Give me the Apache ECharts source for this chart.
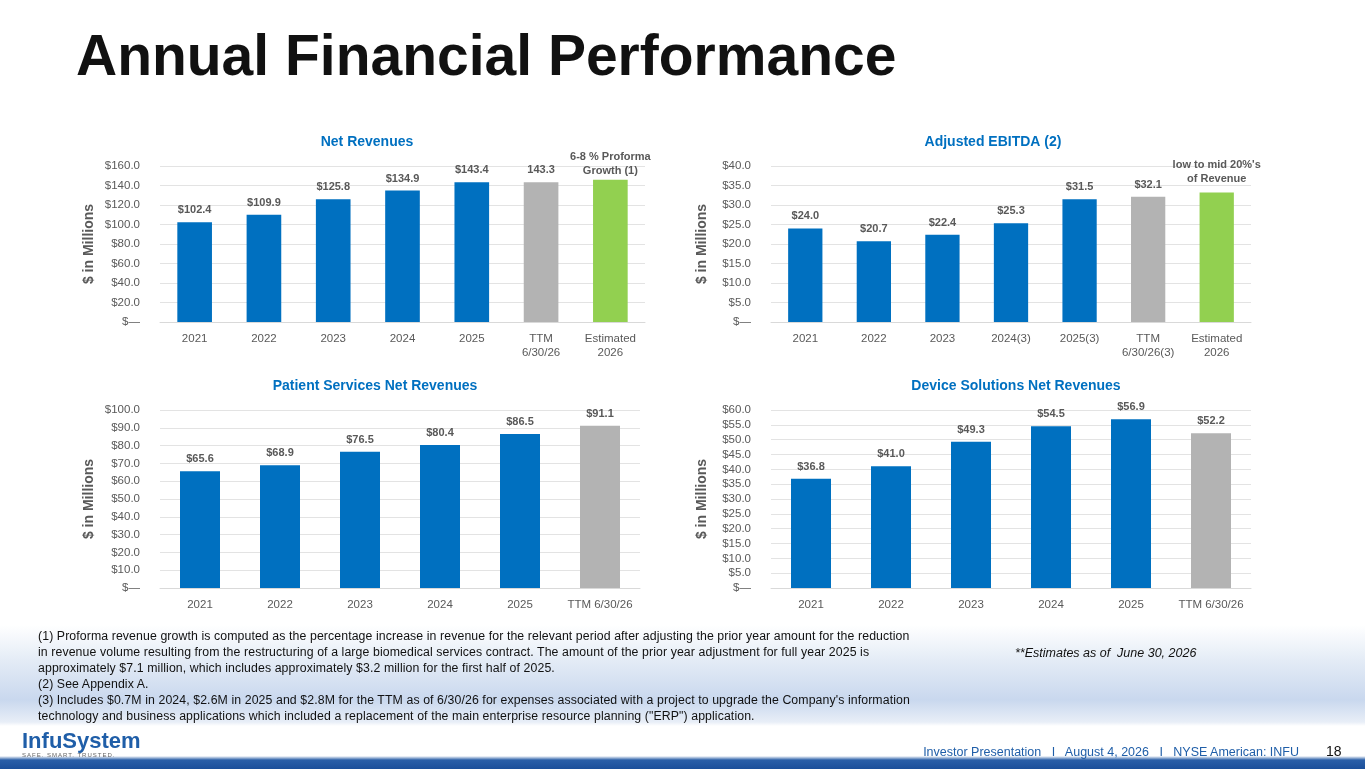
<!DOCTYPE html>
<html>
<head>
<meta charset="utf-8">
<script src="https://cdn.jsdelivr.net/npm/echarts@6/dist/echarts.min.js"></script>
<style>
  body { margin: 0; width: 1365px; height: 769px; overflow: hidden; font-family: Arial, "Liberation Sans", sans-serif; position: relative;
    background: linear-gradient(180deg, #fff 0px, #fff 625px, #e4ecf6 660px, #c9d8ee 700px, #e8eef7 722px, #fff 726px, #fff 756px, #2a5fa8 760px, #1b4f9a 769px); }
  #title { position: absolute; left: 76px; top: 22px; font-size: 57px; font-weight: bold; color: #111; letter-spacing: 0px; }
  #chart { position: absolute; left: 0; top: 0; width: 1365px; height: 769px; }
  #notes { position: absolute; left: 38px; top: 628px; width: 960px; font-size: 12.3px; line-height: 16px; color: #111; letter-spacing: 0.1px; }
  #est { position: absolute; left: 1015px; top: 646px; font-size: 12.5px; font-style: italic; color: #111; }
  #logo { position: absolute; left: 22px; top: 728px; font-size: 22px; font-weight: bold; color: #1f5ea8; }
  #logo small { display: block; font-size: 6px; letter-spacing: 1px; color: #666; font-weight: normal; margin-top: -2px; }
  #foot { position: absolute; right: 66px; top: 745px; font-size: 12.5px; color: #1f5ea8; }
  #page { position: absolute; left: 1326px; top: 743px; font-size: 14px; color: #111; }
</style>
</head>
<body>
<div id="title">Annual Financial Performance</div>
<div id="chart"></div>
<div id="notes">(1) Proforma revenue growth is computed as the percentage increase in revenue for the relevant period after adjusting the prior year amount for the reduction<br>in revenue volume resulting from the restructuring of a large biomedical services contract. The amount of the prior year adjustment for full year 2025 is<br>approximately $7.1 million, which includes approximately $3.2 million for the first half of 2025.<br>(2) See Appendix A.<br>(3) Includes $0.7M in 2024, $2.6M in 2025 and $2.8M for the TTM as of 6/30/26 for expenses associated with a project to upgrade the Company's information<br>technology and business applications which included a replacement of the main enterprise resource planning ("ERP") application.</div>
<div id="est">**Estimates as of &nbsp;June 30, 2026</div>
<div id="logo">InfuSystem<small>SAFE. SMART. TRUSTED.</small></div>
<div id="foot">Investor Presentation &nbsp; I &nbsp; August 4, 2026 &nbsp; I &nbsp; NYSE American: INFU</div>
<div id="page">18</div>
<script>
// chart data
const revCats = ['2021', '2022', '2023', '2024', '2025', 'TTM\n6/30/26', 'Estimated\n2026']
const revVals = [102.4, 109.9, 125.8, 134.9, 143.4, 143.3, 146.0]
const ebitdaCats = ['2021', '2022', '2023', '2024(3)', '2025(3)', 'TTM\n6/30/26(3)', 'Estimated\n2026']
const ebitdaVals = [24.0, 20.7, 22.4, 25.3, 31.5, 32.1, 33.2]
const patientCats = ['2021', '2022', '2023', '2024', '2025', 'TTM 6/30/26']
const patientVals = [65.6, 68.9, 76.5, 80.4, 86.5, 91.1]
const deviceCats = ['2021', '2022', '2023', '2024', '2025', 'TTM 6/30/26']
const deviceVals = [36.8, 41.0, 49.3, 54.5, 56.9, 52.2]

const BLUE = '#0070c0', GRAY = '#b3b3b3', GREEN = '#92d050'

const chart = echarts.init(document.getElementById('chart'))

const grids = [
  { left: 160, top: 166, width: 485, height: 156 },
  { left: 771, top: 166, width: 480, height: 156 },
  { left: 160, top: 410, width: 480, height: 178 },
  { left: 771, top: 410, width: 480, height: 178 }
]
const specs = [
  { cats: revCats, vals: revVals, max: 160, interval: 20, title: 'Net Revenues', tx: 362 },
  { cats: ebitdaCats, vals: ebitdaVals, max: 40, interval: 5, title: 'Adjusted EBITDA (2)', tx: 988 },
  { cats: patientCats, vals: patientVals, max: 100, interval: 10, title: 'Patient Services Net Revenues', tx: 370 },
  { cats: deviceCats, vals: deviceVals, max: 60, interval: 5, title: 'Device Solutions Net Revenues', tx: 1011 }
]

const colorFor = (cats, i) => {
  if (cats[i].startsWith('Estimated')) return GREEN
  if (cats[i].startsWith('TTM')) return GRAY
  return BLUE
}

const option = {
  animation: false,
  title: specs.map((s, i) => ({
    text: s.title, left: s.tx, top: grids[i].top - 36, textAlign: 'center',
    textStyle: { color: BLUE, fontSize: 14, fontWeight: 'bold', fontFamily: 'Arial' }
  })),
  grid: grids,
  xAxis: specs.map((s, i) => ({
    type: 'category', gridIndex: i, data: s.cats,
    axisLine: { lineStyle: { color: '#d9d9d9' } }, axisTick: { show: false },
    axisLabel: { color: '#595959', fontSize: 11.5, fontFamily: 'Arial', margin: 10, lineHeight: 14, interval: 0 }
  })),
  yAxis: specs.map((s, i) => ({
    type: 'value', gridIndex: i, min: 0, max: s.max, interval: s.interval,
    name: '$ in Millions', nameLocation: 'middle', nameGap: i % 2 ? 62 : 64, nameRotate: 90,
    nameTextStyle: { color: '#595959', fontSize: 14, fontWeight: 'bold', fontFamily: 'Arial' },
    axisLine: { show: false }, axisTick: { show: false },
    splitLine: { lineStyle: { color: '#e3e3e3' } },
    axisLabel: { color: '#595959', fontSize: 11.5, fontFamily: 'Arial', margin: 20,
      formatter: v => v === 0 ? '$—' : '$' + v.toFixed(1) }
  })),
  series: specs.map((s, i) => ({
    type: 'bar', xAxisIndex: i, yAxisIndex: i, barWidth: '50%',
    data: s.vals.map((v, j) => {
      const est = s.cats[j].startsWith('Estimated')
      let text = '$' + v.toFixed(1)
      if (i === 0 && s.cats[j].startsWith('TTM')) text = v.toFixed(1)
      if (est) text = i === 0 ? '6-8 % Proforma\nGrowth (1)' : 'low to mid 20%\'s\nof Revenue'
      return { value: v, itemStyle: { color: colorFor(s.cats, j) },
        label: { formatter: text, distance: est ? (i === 0 ? 2 : 7) : 5 } }
    }),
    label: { show: true, position: 'top', color: '#595959', fontSize: 11, fontWeight: 'bold', fontFamily: 'Arial', lineHeight: 14 }
  }))
}
chart.setOption(option)
</script>
</body>
</html>
